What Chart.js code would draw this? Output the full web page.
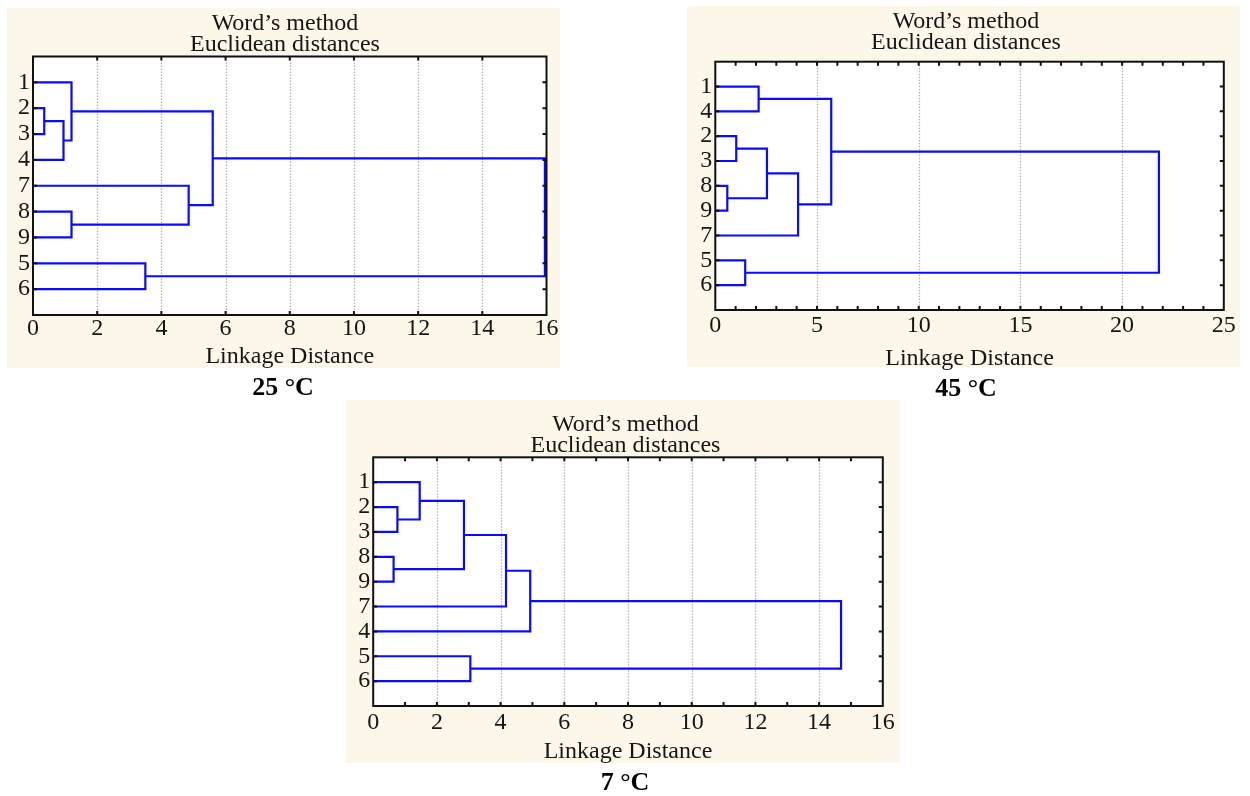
<!DOCTYPE html>
<html><head><meta charset="utf-8">
<script src="https://cdn.jsdelivr.net/npm/chart.js@4.4.0/dist/chart.umd.min.js"></script>
<style>
html,body{margin:0;padding:0;background:#fff;width:1250px;height:796px;overflow:hidden;}
.panel{position:absolute;background:#fcf7e9;}
canvas{position:absolute;}
.cap{position:absolute;z-index:5;font-family:'Liberation Serif','Times New Roman',serif;font-weight:bold;font-size:26px;color:#000;transform:translate(-50%,-50%);white-space:nowrap;line-height:1;}
</style></head><body>
<div class="panel" id="p25"></div><div class="panel" id="p45"></div><div class="panel" id="p7"></div>
<canvas id="c25"></canvas><canvas id="c45"></canvas><canvas id="c7"></canvas>
<div class="cap" style="left:283px;top:387px">25 °C</div>
<div class="cap" style="left:966px;top:388px">45 °C</div>
<div class="cap" style="left:625px;top:782px">7 °C</div>
<script>
// ---- data ----
const titleLines = ['Word\u2019s method', 'Euclidean distances'];
const axisTitle = 'Linkage Distance';

// leaves listed top to bottom; merges: [childA, childB, height], child index <9 = leaf, >=9 = earlier merge (9 + k)
const leaves25 = ['1','2','3','4','7','8','9','5','6'];
const merges25 = [[1,2,0.35],[9,3,0.95],[0,10,1.2],[5,6,1.2],[4,12,4.85],[11,13,5.6],[7,8,3.5],[14,15,15.95]];
const xTicks25 = [0,2,4,6,8,10,12,14,16];

const leaves45 = ['1','4','2','3','8','9','7','5','6'];
const merges45 = [[0,1,2.13],[2,3,1.03],[4,5,0.59],[10,11,2.54],[12,6,4.07],[9,13,5.70],[7,8,1.47],[14,15,21.81]];
const xTicks45 = [0,5,10,15,20,25];

const leaves7 = ['1','2','3','8','9','7','4','5','6'];
const merges7 = [[1,2,0.76],[0,9,1.46],[3,4,0.64],[10,11,2.85],[12,5,4.17],[13,6,4.93],[7,8,3.05],[14,15,14.69]];
const xTicks7 = [0,2,4,6,8,10,12,14,16];

// ---- layout / style ----
const FONT = "'Liberation Serif','Times New Roman',serif";
const layouts = {
  c25: {panel:[7,8,553,360], canvas:[7,8,553,372], area:{l:33,r:546.5,t:56.5,b:315}, titleC:23.5, tickC:328.5, axC:357, padL:3, minor:2},
  c45: {panel:[687,6,553,361], canvas:[687,6,553,373], area:{l:715.3,r:1227,t:61.7,b:310}, titleC:22.2, tickC:326.2, axC:358.7, padL:5, minor:1},
  c7:  {panel:[346,400,554,363], canvas:[346,400,554,375], area:{l:373.2,r:884.6,t:457.3,b:706}, titleC:424.8, tickC:723.2, axC:751.7, padL:5, minor:1}
};

const framePlugin = {
  id: 'frame',
  beforeDraw(chart) {
    const {ctx, chartArea: a} = chart;
    ctx.save(); ctx.fillStyle = '#fff';
    ctx.fillRect(a.left, a.top, a.right - a.left, a.bottom - a.top);
    ctx.restore();
  },
  beforeDatasetsDraw(chart) {
    const {ctx, chartArea: a, scales} = chart;
    const x = scales.x;
    ctx.save();
    ctx.strokeStyle = '#b4b4b4'; ctx.lineWidth = 1.3; ctx.setLineDash([1.5, 1.5]);
    ctx.beginPath();
    x.ticks.forEach(t => {
      if (t.value <= x.min || t.value >= x.max) return;
      const px = Math.round(x.getPixelForValue(t.value)) + 0.5;
      ctx.moveTo(px, a.top); ctx.lineTo(px, a.bottom);
    });
    ctx.stroke(); ctx.restore();
  },
  afterDatasetsDraw(chart, args, opts) {
    const {ctx, chartArea: a, scales} = chart;
    const x = scales.x, y = scales.y;
    ctx.save();
    ctx.strokeStyle = '#111'; ctx.lineWidth = 2;
    ctx.strokeRect(a.left, a.top, a.right - a.left, a.bottom - a.top);
    ctx.beginPath();
    const len = 4;
    for (let v = x.min + opts.step; v < x.max - 1e-9; v += opts.step) {
      const px = x.getPixelForValue(v);
      ctx.moveTo(px, a.top); ctx.lineTo(px, a.top + len);
      ctx.moveTo(px, a.bottom); ctx.lineTo(px, a.bottom - len);
    }
    y.ticks.forEach(t => {
      const py = y.getPixelForValue(t.value);
      ctx.moveTo(a.left, py); ctx.lineTo(a.left + len, py);
      ctx.moveTo(a.right, py); ctx.lineTo(a.right - len, py);
    });
    ctx.stroke(); ctx.restore();
  }
};

function buildDatasets(leaves, merges) {
  const pos = leaves.map((_, i) => ({x: 0, y: i + 1}));
  const sets = [];
  merges.forEach(([a, b, h]) => {
    const pa = pos[a], pb = pos[b];
    sets.push({
      data: [{x: pa.x, y: pa.y}, {x: h, y: pa.y}, {x: h, y: pb.y}, {x: pb.x, y: pb.y}],
      showLine: true, borderColor: '#0a0aff', borderWidth: 2.2, pointRadius: 0, tension: 0, fill: false, clip: false
    });
    pos.push({x: h, y: (pa.y + pb.y) / 2});
  });
  return sets;
}

function makeChart(id, leaves, merges, xTicks) {
  const L = layouts[id];
  const p = document.getElementById('p' + id.slice(1));
  p.style.left = L.panel[0] + 'px'; p.style.top = L.panel[1] + 'px';
  p.style.width = L.panel[2] + 'px'; p.style.height = L.panel[3] + 'px';
  const cv = document.getElementById(id);
  const [cl, ct, cw, ch] = L.canvas;
  cv.width = cw; cv.height = ch;
  cv.style.left = cl + 'px'; cv.style.top = ct + 'px';
  cv.style.width = cw + 'px'; cv.style.height = ch + 'px';
  const a = L.area;
  const yW = a.l - cl - L.padL;
  const rW = cl + cw - a.r;
  const xH = ct + ch - a.b;
  const lhT = 21, fsT = 24;
  const tPadTop = L.titleC - ct - lhT / 2;
  const tPadBot = (a.t - ct) - 2 * lhT - tPadTop;
  const fsTick = 24;
  const tickPad = L.tickC - a.b - fsTick / 2;
  const fsAx = 24;
  const axPadBot = ct + ch - fsAx / 2 - L.axC;
  const xmax = xTicks[xTicks.length - 1];

  new Chart(cv, {
    type: 'scatter',
    data: {datasets: buildDatasets(leaves, merges)},
    options: {
      responsive: false, animation: false, devicePixelRatio: 1,
      events: [],
      layout: {padding: {left: L.padL, right: 0, top: 0, bottom: 0}},
      plugins: {
        legend: {display: false}, tooltip: {enabled: false},
        title: {display: true, text: titleLines, color: '#151515',
          font: {family: FONT, size: fsT, weight: 'normal', lineHeight: lhT / fsT},
          padding: {top: tPadTop, bottom: tPadBot}},
        frame: {step: L.minor}
      },
      scales: {
        x: {
          type: 'linear', position: 'bottom', min: xTicks[0], max: xmax,
          afterBuildTicks: s => { s.ticks = xTicks.map(v => ({value: v})); },
          afterFit: s => { s.height = xH; },
          grid: {display: false, drawTicks: false},
          border: {display: false},
          ticks: {color: '#151515', padding: tickPad, maxRotation: 0, autoSkip: false,
            font: {family: FONT, size: fsTick, lineHeight: 1},
            callback: v => String(v)},
          title: {display: true, text: axisTitle, color: '#151515',
            font: {family: FONT, size: fsAx, lineHeight: 1}, padding: {top: 0, bottom: axPadBot}}
        },
        y: {
          type: 'linear', position: 'left', min: 0, max: leaves.length + 1, reverse: true,
          afterBuildTicks: s => { s.ticks = leaves.map((_, i) => ({value: i + 1})); },
          afterFit: s => { s.width = yW; },
          grid: {display: false, drawTicks: false},
          border: {display: false},
          ticks: {color: '#151515', padding: 3, autoSkip: false,
            font: {family: FONT, size: 24, lineHeight: 1},
            callback: v => leaves[Math.round(v) - 1] || ''}
        },
        yR: {
          type: 'linear', position: 'right', display: true,
          afterFit: s => { s.width = rW; },
          grid: {display: false, drawTicks: false}, border: {display: false},
          ticks: {display: false}
        }
      }
    },
    plugins: [framePlugin]
  });
}

makeChart('c25', leaves25, merges25, xTicks25);
makeChart('c45', leaves45, merges45, xTicks45);
makeChart('c7', leaves7, merges7, xTicks7);
</script>
</body></html>
